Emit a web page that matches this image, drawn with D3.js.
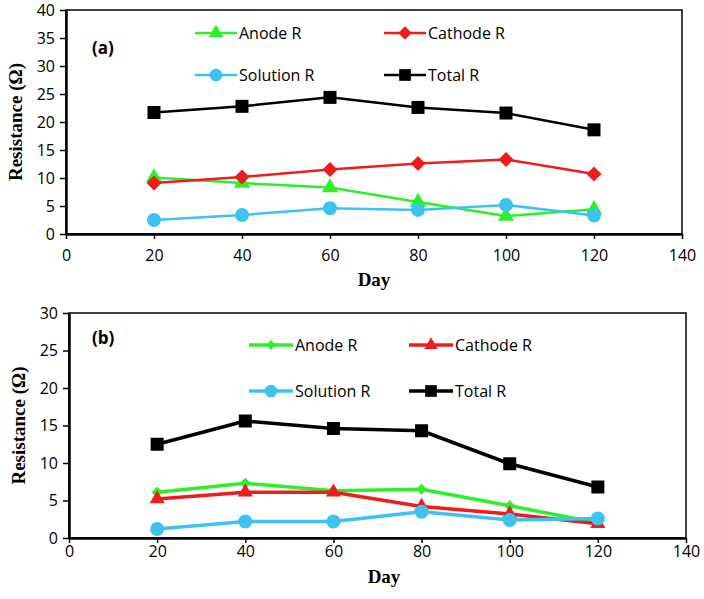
<!DOCTYPE html>
<html><head><meta charset="utf-8">
<script src="https://cdn.jsdelivr.net/npm/d3@7"></script>
<style>body{margin:0;background:#fff}svg{display:block}</style>
</head><body>
<svg id="c" width="704" height="599"></svg>
<script>
const days = [20, 40, 60, 80, 100, 120];
const xTicks = [0, 20, 40, 60, 80, 100, 120, 140];
// Panel (a)
const aAnode    = [10.1, 9.1, 8.3, 5.7, 3.2, 4.4];
const aCathode  = [9.1, 10.2, 11.5, 12.6, 13.3, 10.7];
const aSolution = [2.5, 3.4, 4.6, 4.3, 5.2, 3.3];
const aTotal    = [21.7, 22.8, 24.4, 22.6, 21.6, 18.6];
const aYTicks = [0, 5, 10, 15, 20, 25, 30, 35, 40];
// Panel (b)
const bAnode    = [6.1, 7.3, 6.3, 6.5, 4.3, 2.0];
const bCathode  = [5.2, 6.1, 6.1, 4.2, 3.2, 1.9];
const bSolution = [1.2, 2.2, 2.2, 3.5, 2.4, 2.6];
const bTotal    = [12.5, 15.6, 14.6, 14.3, 9.9, 6.8];
const bYTicks = [0, 5, 10, 15, 20, 25, 30];
const seriesNames = ["Anode R", "Cathode R", "Solution R", "Total R"];

const GREEN = "#2ef02a", RED = "#ee1c1c", CYAN = "#3cc3f2", BLACK = "#000";
const svg = d3.select("#c");

function marker(g, type, x, y, color, s) {
  let d;
  if (type === "triangle") d = d3.symbol(d3.symbolTriangle, s * s * 0.5)();
  else if (type === "diamond") { const h = s / 2; d = `M0,${-h}L${h},0L0,${h}L${-h},0Z`; }
  else if (type === "circle") d = d3.symbol(d3.symbolCircle, s * s * 0.78)();
  else d = d3.symbol(d3.symbolSquare, s * s)();
  g.append("path").attr("d", d).attr("transform", `translate(${x},${y})`)
    .attr("fill", color).attr("stroke", "none");
}

function panel(cfg) {
  const g = svg.append("g");
  const x = d3.scaleLinear().domain([0, 140]).range([cfg.x0, cfg.x1]);
  const y = d3.scaleLinear().domain([0, cfg.ymax]).range([cfg.y0, cfg.y1]);
  g.append("rect").attr("x", cfg.x0).attr("y", cfg.y1).attr("width", cfg.x1 - cfg.x0)
    .attr("height", cfg.y0 - cfg.y1).attr("fill", "none").attr("stroke", "#000").attr("stroke-width", 1.5);
  const xa = g.append("g").attr("transform", `translate(0,${cfg.y0})`)
    .call(d3.axisBottom(x).tickValues(xTicks).tickSize(5).tickPadding(cfg.xPad).tickSizeOuter(0));
  const ya = g.append("g").attr("transform", `translate(${cfg.x0},0)`)
    .call(d3.axisLeft(y).tickValues(cfg.yTicks).tickSize(6).tickPadding(cfg.yPad).tickSizeOuter(0));
  [xa, ya].forEach(a => {
    a.select(".domain").attr("stroke", "#000").attr("stroke-width", 2.5);
    a.selectAll(".tick line").attr("stroke", "#000").attr("stroke-width", 1.5);
    a.selectAll("text").attr("font-family", "'Open Sans', sans-serif").attr("font-size", 16).attr("fill", "#000");
  });
  g.append("text").attr("x", cfg.dayX).attr("y", cfg.dayY).attr("text-anchor", "middle")
    .attr("font-family", "'Liberation Serif', serif").attr("font-weight", "bold").attr("font-size", 19).text("Day");
  g.append("text").attr("transform", `translate(${cfg.ytX},${(cfg.y0 + cfg.y1) / 2}) rotate(-90)`)
    .attr("text-anchor", "middle").attr("font-family", "'Liberation Serif', serif").attr("font-weight", "bold")
    .attr("font-size", 19).text("Resistance (Ω)");
  g.append("text").attr("x", cfg.labX).attr("y", cfg.labY).attr("font-family", "'Open Sans', sans-serif")
    .attr("font-weight", "bold").attr("font-size", 17).text(cfg.label);
  const line = d3.line().x((d, i) => x(days[i])).y(d => y(d));
  cfg.series.forEach(s => {
    g.append("path").datum(s.values).attr("d", line).attr("fill", "none")
      .attr("stroke", s.color).attr("stroke-width", cfg.lw).attr("stroke-linejoin", "round");
    s.values.forEach((v, i) => marker(g, s.marker, x(days[i]), y(v), s.color, s.size));
  });
  cfg.series.forEach((s, k) => {
    const lx = cfg.legX[k % 2], ly = cfg.legY[Math.floor(k / 2)];
    g.append("line").attr("x1", lx).attr("x2", lx + cfg.legLen).attr("y1", ly).attr("y2", ly)
      .attr("stroke", s.color).attr("stroke-width", cfg.lw);
    marker(g, s.marker, lx + cfg.legLen / 2, ly, s.color, s.size * 0.9);
    g.append("text").attr("x", lx + cfg.legLen + 2).attr("y", ly).attr("dy", "0.35em")
      .attr("font-family", "'Open Sans', sans-serif").attr("font-size", 16).attr("fill", "#000").text(s.name);
  });
}

panel({
  x0: 66, x1: 682, y0: 234, y1: 10, ymax: 40, yTicks: aYTicks, xPad: 11, yPad: 5,
  dayX: 374, dayY: 286, ytX: 22, label: "(a)", labX: 92, labY: 54, lw: 2.5,
  legX: [195, 384], legY: [33, 75], legLen: 42,
  series: [
    {name: seriesNames[0], values: aAnode, color: GREEN, marker: "triangle", size: 15},
    {name: seriesNames[1], values: aCathode, color: RED, marker: "diamond", size: 15},
    {name: seriesNames[2], values: aSolution, color: CYAN, marker: "circle", size: 14},
    {name: seriesNames[3], values: aTotal, color: BLACK, marker: "square", size: 13}
  ]
});
panel({
  x0: 69, x1: 686, y0: 538, y1: 313, ymax: 30, yTicks: bYTicks, xPad: 3, yPad: 5,
  dayX: 384, dayY: 583, ytX: 25, label: "(b)", labX: 92, labY: 344, lw: 3.5,
  legX: [249, 409], legY: [345, 391], legLen: 44,
  series: [
    {name: seriesNames[0], values: bAnode, color: GREEN, marker: "diamond", size: 11},
    {name: seriesNames[1], values: bCathode, color: RED, marker: "triangle", size: 14},
    {name: seriesNames[2], values: bSolution, color: CYAN, marker: "circle", size: 14},
    {name: seriesNames[3], values: bTotal, color: BLACK, marker: "square", size: 13}
  ]
});
</script>
</body></html>
